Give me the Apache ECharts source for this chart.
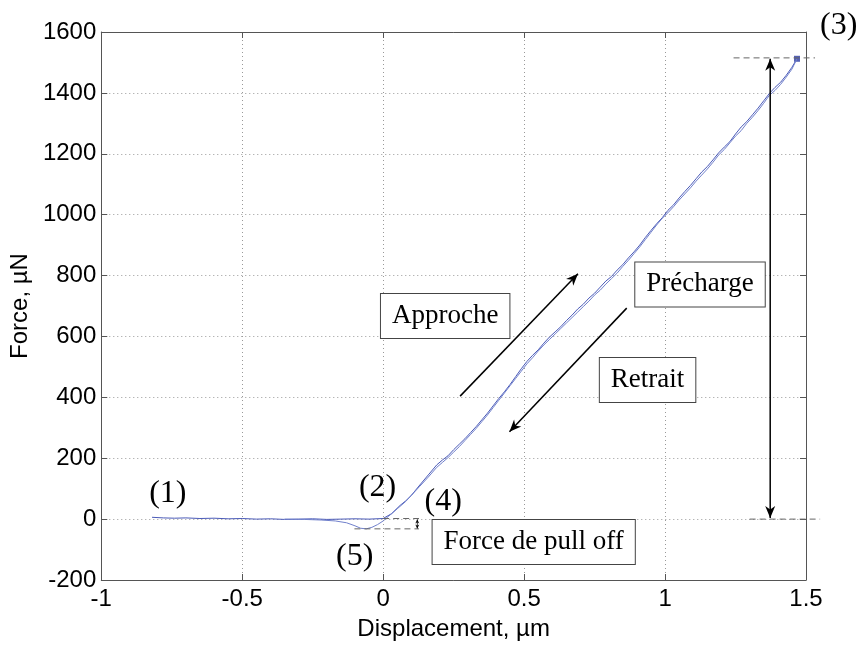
<!DOCTYPE html>
<html>
<head>
<meta charset="utf-8">
<script src="https://cdn.jsdelivr.net/npm/echarts@6/dist/echarts.min.js"></script>
<style>
  html, body { margin: 0; padding: 0; background: #fff; }
  #chart { width: 861px; height: 646px; }
</style>
</head>
<body>
<div id="chart"></div>
<script>
// Loading curve (approach, then preload up to the maximum)
const approachX = [-0.82, -0.78, -0.74, -0.70, -0.65, -0.60, -0.55, -0.50, -0.45, -0.40, -0.35, -0.30, -0.25, -0.20, -0.15, -0.10, -0.05, 0.00,
  0.03, 0.06, 0.08, 0.10, 0.13, 0.16, 0.19, 0.21, 0.23, 0.25, 0.27, 0.29, 0.31, 0.33, 0.35, 0.37, 0.39, 0.41, 0.43, 0.45, 0.47,
  0.49, 0.51, 0.53, 0.55, 0.57, 0.59, 0.61, 0.63, 0.65, 0.67, 0.69, 0.71, 0.73, 0.75, 0.77, 0.79, 0.81, 0.83, 0.85, 0.87,
  0.89, 0.91, 0.93, 0.95, 0.97, 0.99, 1.01, 1.03, 1.05, 1.07, 1.09, 1.11, 1.13, 1.15, 1.17, 1.19, 1.21, 1.23, 1.25, 1.27,
  1.29, 1.31, 1.33, 1.35, 1.37, 1.39, 1.41, 1.43, 1.45, 1.468];
const approachY = [6, 4, 3, 4, 2, 3, 1, 2, 0, 1, -1, 0, 1, -1, 0, 1, 0, 2,
  18, 45, 60, 78, 112, 145, 178, 194, 208, 228, 246, 264, 284, 304, 326, 348, 372, 396, 418, 442, 468,
  494, 518, 538, 556, 578, 598, 615, 632, 652, 670, 690, 706, 726, 742, 762, 782, 797, 818, 836, 858,
  878, 900, 925, 948, 970, 990, 1014, 1032, 1055, 1076, 1096, 1118, 1140, 1158, 1180, 1203, 1222, 1240, 1265, 1288,
  1306, 1328, 1350, 1374, 1398, 1418, 1435, 1458, 1484, 1512];

// Unloading curve (withdrawal, with the pull-off dip below zero)
const retractX = [1.468, 1.45, 1.43, 1.41, 1.39, 1.37, 1.35, 1.33, 1.31, 1.29, 1.27, 1.25, 1.23, 1.21, 1.19, 1.17, 1.15, 1.13,
  1.11, 1.09, 1.07, 1.05, 1.03, 1.01, 0.99, 0.97, 0.95, 0.93, 0.91, 0.89, 0.87, 0.85, 0.83, 0.81, 0.79, 0.77, 0.75, 0.73,
  0.71, 0.69, 0.67, 0.65, 0.63, 0.61, 0.59, 0.57, 0.55, 0.53, 0.51, 0.49, 0.47, 0.45, 0.43, 0.41, 0.39, 0.37, 0.35, 0.33,
  0.31, 0.29, 0.27, 0.25, 0.23, 0.21, 0.19, 0.16, 0.13, 0.11, 0.08, 0.05, 0.02, 0.00, -0.02, -0.04, -0.06, -0.08, -0.10,
  -0.13, -0.17, -0.22, -0.28, -0.35];
const retractY = [1512, 1478, 1452, 1428, 1408, 1392, 1366, 1342, 1320, 1300, 1276, 1258, 1236, 1214, 1196, 1172, 1150, 1130,
  1110, 1088, 1068, 1048, 1026, 1006, 988, 966, 942, 918, 894, 872, 850, 830, 808, 790, 772, 752, 736, 716,
  698, 680, 662, 644, 626, 608, 590, 572, 552, 530, 510, 486, 462, 438, 414, 390, 366, 342, 320, 298,
  278, 258, 238, 220, 202, 186, 170, 138, 108, 88, 58, 34, 10, -6, -18, -27, -32, -30, -22,
  -12, -6, -3, -1, 0];

// Maximum load point
const peakPoint = [1.468, 1512];

// Axis ranges
const xMin = -1, xMax = 1.5, xStep = 0.5;
const yMin = -200, yMax = 1600, yStep = 200;

// Numbered stage labels [text, x, y]
const stageLabels = [
  ['(1)', -0.764, 85],
  ['(2)', -0.020, 105],
  ['(3)', 1.616, 1620],
  ['(4)', 0.213, 56],
  ['(5)', -0.101, -122]
];

// Boxed labels [text, x, y]
const boxLabels = [
  ['Approche', 0.220, 667],
  ['Précharge', 1.124, 771],
  ['Retrait', 0.938, 457],
  ['Force de pull off', 0.534, -75]
];

// Arrows [x1, y1, x2, y2, headAtStart, headAtEnd]
const arrows = [
  [0.273, 404, 0.691, 806, false, true],
  [0.864, 693, 0.448, 287, false, true],
  [1.373, 4, 1.373, 1512, true, true],
  [0.121, -1, 0.121, -31, true, true]
];

// Dashed guide lines [x1, y1, x2, y2]
const guides = [
  [1.243, 1515, 1.532, 1515],
  [1.30, 0, 1.55, 0],
  [-0.102, -32, 0.127, -32],
  [0.0, 2, 0.127, 2]
];

const toPairs = (xs, ys) => xs.map((x, i) => [x, ys[i]]);

const chart = echarts.init(document.getElementById('chart'));
const sansFont = '"Liberation Sans", Arial, sans-serif';
const serifFont = '"Liberation Serif", "Times New Roman", serif';

const frameColor = '#555';
const gridDots = { show: true, lineStyle: { color: '#999', type: [1, 3], width: 1 } };
const plainNumber = v => String(v);

chart.setOption({
  animation: false,
  backgroundColor: '#fff',
  grid: { left: 97, right: 55, top: 32, bottom: 59, containLabel: false },
  xAxis: [{
    type: 'value', min: xMin, max: xMax, interval: xStep,
    name: 'Displacement, µm', nameLocation: 'middle', nameGap: 37,
    nameTextStyle: { fontFamily: sansFont, fontSize: 24, color: '#000' },
    axisLine: { show: true, onZero: false, lineStyle: { color: frameColor, width: 1 } },
    axisTick: { show: true, inside: true, length: 6, lineStyle: { color: frameColor } },
    axisLabel: { fontFamily: sansFont, fontSize: 24, color: '#000', margin: 7, formatter: plainNumber },
    splitLine: gridDots
  }, {
    type: 'value', min: xMin, max: xMax, interval: xStep, position: 'top',
    axisLine: { show: true, onZero: false, lineStyle: { color: frameColor, width: 1 } },
    axisTick: { show: true, inside: true, length: 6, lineStyle: { color: frameColor } },
    axisLabel: { show: false }, splitLine: { show: false }
  }],
  yAxis: [{
    type: 'value', min: yMin, max: yMax, interval: yStep,
    name: 'Force, µN', nameLocation: 'middle', nameGap: 56, nameRotate: 90,
    nameTextStyle: { fontFamily: sansFont, fontSize: 24, color: '#000' },
    axisLine: { show: true, onZero: false, lineStyle: { color: frameColor, width: 1 } },
    axisTick: { show: true, inside: true, length: 6, lineStyle: { color: frameColor } },
    axisLabel: { fontFamily: sansFont, fontSize: 24, color: '#000', margin: 5, formatter: plainNumber },
    splitLine: gridDots
  }, {
    type: 'value', min: yMin, max: yMax, interval: yStep, position: 'right',
    axisLine: { show: true, onZero: false, lineStyle: { color: frameColor, width: 1 } },
    axisTick: { show: true, inside: true, length: 6, lineStyle: { color: frameColor } },
    axisLabel: { show: false }, splitLine: { show: false }
  }],
  series: [{
    name: 'Approche', type: 'line', data: toPairs(approachX, approachY),
    showSymbol: false, symbol: 'none', smooth: false,
    lineStyle: { color: '#4a5ab8', width: 1 }
  }, {
    name: 'Retrait', type: 'line', data: toPairs(retractX, retractY),
    showSymbol: false, symbol: 'none', smooth: false,
    lineStyle: { color: '#7080cc', width: 1 }
  }, {
    name: 'Max', type: 'scatter', data: [peakPoint],
    symbol: 'rect', symbolSize: 6, itemStyle: { color: '#2b3aa0' }
  }]
});

function arrowHead(tip, from, len, half) {
  const dx = tip[0] - from[0], dy = tip[1] - from[1];
  const d = Math.hypot(dx, dy) || 1;
  const ux = dx / d, uy = dy / d, nx = -uy, ny = ux;
  const bx = tip[0] - ux * len, by = tip[1] - uy * len;
  const mx = tip[0] - ux * len * 0.7, my = tip[1] - uy * len * 0.7;
  return {
    type: 'polygon',
    shape: { points: [tip, [bx + nx * half, by + ny * half], [mx, my], [bx - nx * half, by - ny * half]] },
    style: { fill: '#000' }, z: 20
  };
}

function drawAnnotations() {
  const px = p => chart.convertToPixel({ xAxisIndex: 0, yAxisIndex: 0 }, p);
  const els = [];

  guides.forEach(g => {
    const a = px([g[0], g[1]]), b = px([g[2], g[3]]);
    els.push({
      type: 'line', shape: { x1: a[0], y1: a[1], x2: b[0], y2: b[1] },
      style: { stroke: '#666', lineWidth: 1, lineDash: [6, 4] }, z: 15
    });
  });

  arrows.forEach(ar => {
    const a = px([ar[0], ar[1]]), b = px([ar[2], ar[3]]);
    const small = Math.hypot(b[0] - a[0], b[1] - a[1]) < 30;
    const len = small ? 4 : 12, half = small ? 2 : 5;
    els.push({
      type: 'line', shape: { x1: a[0], y1: a[1], x2: b[0], y2: b[1] },
      style: { stroke: small ? '#333' : '#000', lineWidth: small ? 1 : 1.5 }, z: 18
    });
    if (ar[4]) els.push(arrowHead(a, b, len, half));
    if (ar[5]) els.push(arrowHead(b, a, len, half));
  });

  stageLabels.forEach(s => {
    const p = px([s[1], s[2]]);
    els.push({
      type: 'text', x: p[0], y: p[1], z: 25,
      style: { text: s[0], font: '32px ' + serifFont, fill: '#000', align: 'center', verticalAlign: 'middle' }
    });
  });

  boxLabels.forEach(s => {
    const p = px([s[1], s[2]]);
    els.push({
      type: 'text', x: p[0], y: p[1], z: 25,
      style: {
        text: s[0], font: '27px ' + serifFont, fill: '#000', align: 'center', verticalAlign: 'middle',
        backgroundColor: '#fff', borderColor: '#444', borderWidth: 1, padding: [9, 11, 8, 11]
      }
    });
  });

  chart.setOption({ graphic: { elements: els } });
}

drawAnnotations();
</script>
</body>
</html>
